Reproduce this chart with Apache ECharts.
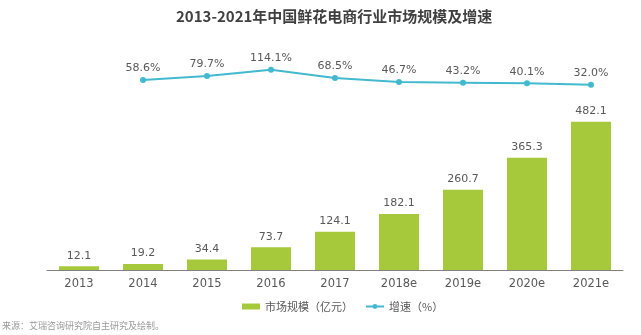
<!DOCTYPE html>
<html>
<head>
<meta charset="utf-8">
<script src="https://cdn.jsdelivr.net/npm/echarts@6/dist/echarts.min.js"></script>
<style>
html,body{margin:0;padding:0;background:#fff;}
#main{width:641px;height:335px;}
</style>
</head>
<body>
<div id="main"></div>
<script>
const categories = ['2013','2014','2015','2016','2017','2018e','2019e','2020e','2021e'];
const marketSize = [12.1, 19.2, 34.4, 73.7, 124.1, 182.1, 260.7, 365.3, 482.1];
const growthCats = ['2014','2015','2016','2017','2018e','2019e','2020e','2021e'];
const growthRate = [58.6, 79.7, 114.1, 68.5, 46.7, 43.2, 40.1, 32.0];
const seriesNames = ['市场规模（亿元）', '增速（%）'];
const titleText = '2013-2021年中国鲜花电商行业市场规模及增速';
const sourceText = '来源：艾瑞咨询研究院自主研究及绘制。';

const growthData = categories.map(c => {
  const i = growthCats.indexOf(c);
  return i >= 0 ? growthRate[i] : null;
});

const FONT = '"DejaVu Sans", "Noto Sans CJK SC", sans-serif';
const chart = echarts.init(document.getElementById('main'), null, {renderer: 'canvas'});
chart.setOption({
  animation: false,
  backgroundColor: '#ffffff',
  title: {
    text: titleText,
    left: 171,
    top: 4,
    textStyle: {fontSize: 15, fontWeight: 'bold', color: '#404040', fontFamily: '"Noto Sans CJK SC", sans-serif'}
  },
  legend: {
    top: 296,
    left: 237,
    itemGap: 12,
    itemWidth: 18,
    itemHeight: 6,
    textStyle: {fontSize: 11, color: '#595959', fontFamily: '"Noto Sans CJK SC", sans-serif'},
    data: [
      {name: seriesNames[0], icon: 'rect'},
      {name: seriesNames[1]}
    ]
  },
  graphic: [{
    type: 'text',
    left: 2,
    top: 321,
    style: {text: sourceText, fontSize: 9, fill: '#9a9a9a', fontFamily: '"Noto Sans CJK SC", sans-serif'}
  }],
  grid: {left: 47, right: 18, top: 40, bottom: 65},
  xAxis: {
    type: 'category',
    data: categories,
    axisLine: {lineStyle: {color: '#808080', width: 1}},
    axisTick: {show: false},
    axisLabel: {color: '#595959', fontSize: 11.5, margin: 8, fontFamily: FONT}
  },
  yAxis: [
    {type: 'value', min: 0, max: 748, show: false, splitLine: {show: false}},
    {type: 'value', min: -982, max: 277, show: false, splitLine: {show: false}}
  ],
  series: [
    {
      name: seriesNames[0],
      type: 'bar',
      data: marketSize,
      barWidth: 40,
      yAxisIndex: 0,
      itemStyle: {color: '#a6c93b'},
      label: {show: true, position: 'top', distance: 5, color: '#595959', fontSize: 11, fontFamily: FONT,
        formatter: p => p.value.toFixed(1)}
    },
    {
      name: seriesNames[1],
      type: 'line',
      data: growthData,
      yAxisIndex: 1,
      connectNulls: false,
      symbol: 'circle',
      symbolSize: 6,
      lineStyle: {color: '#43b9cf', width: 2},
      itemStyle: {color: '#43b9cf'},
      label: {show: true, position: 'top', distance: 3, color: '#595959', fontSize: 11, fontFamily: FONT,
        formatter: p => p.value.toFixed(1) + '%'}
    }
  ]
});
</script>
</body>
</html>
